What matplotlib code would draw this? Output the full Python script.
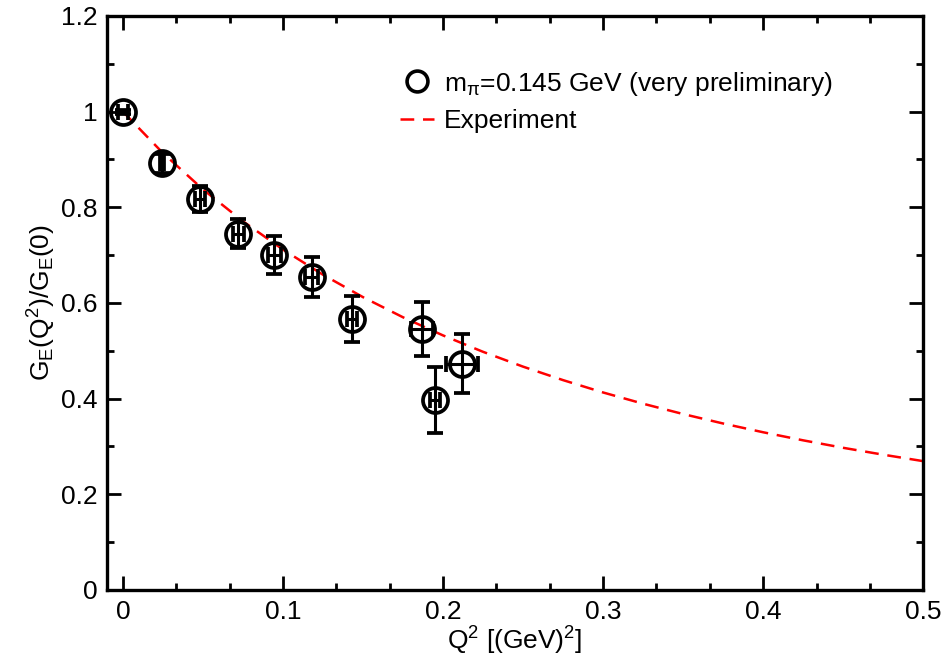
import numpy as np
import matplotlib
matplotlib.use('Agg')
import matplotlib.pyplot as plt

plt.rcParams['font.family'] = ['Liberation Sans', 'DejaVu Sans']
plt.rcParams['mathtext.fontset'] = 'custom'
plt.rcParams['mathtext.rm'] = 'Liberation Sans'
plt.rcParams['mathtext.it'] = 'Liberation Sans:italic'

# lattice points
q2 = [0.0, 0.0244, 0.048, 0.072, 0.0946, 0.118, 0.143, 0.187, 0.195, 0.212]
q2_err = [0.003, 0.0015, 0.003, 0.0035, 0.004, 0.004, 0.003, 0.007, 0.003, 0.010]
ge = [1.0, 0.892, 0.818, 0.745, 0.70, 0.655, 0.566, 0.545, 0.397, 0.473]
ge_err = [0.004, 0.02, 0.027, 0.031, 0.04, 0.042, 0.048, 0.057, 0.07, 0.062]

# experiment curve
q2_exp = [0.0, 0.025, 0.05, 0.075, 0.1, 0.125, 0.15, 0.175, 0.2, 0.225, 0.25,
          0.275, 0.3, 0.325, 0.35, 0.375, 0.4, 0.425, 0.45, 0.475, 0.5]
ge_exp = [1.0, 0.9133, 0.8374, 0.7706, 0.7115, 0.6589, 0.6120, 0.5699, 0.5320,
          0.4977, 0.4667, 0.4385, 0.4127, 0.3892, 0.3676, 0.3478, 0.3295,
          0.3126, 0.2970, 0.2826, 0.2691]

fig = plt.figure(figsize=(9.46, 6.65), dpi=100)
ax = fig.add_axes([0.113, 0.113, 0.863, 0.863])

ax.plot(q2_exp, ge_exp, color='red', ls=(0, (5.5, 3.5)), lw=1.8, label='Experiment', zorder=2)
ax.errorbar(q2, ge, xerr=q2_err, yerr=ge_err, fmt='o', mfc='none', mec='black', ms=18,
            mew=2.7, ecolor='black', elinewidth=2.2, capsize=6, capthick=2.2, zorder=3)
h_pts, = ax.plot([], [], 'o', mfc='none', mec='black', ms=15, mew=2.6)
h_exp = ax.get_lines()[0]

ax.set_xlim(-0.01, 0.5)
ax.set_ylim(0, 1.2)
ax.set_xticks([0, 0.1, 0.2, 0.3, 0.4, 0.5])
ax.set_xticklabels(['0', '0.1', '0.2', '0.3', '0.4', '0.5'])
ax.set_xticks(np.arange(0, 0.5, 0.1 / 3), minor=True)
ax.set_yticks([0, 0.2, 0.4, 0.6, 0.8, 1.0, 1.2])
ax.set_yticklabels(['0', '0.2', '0.4', '0.6', '0.8', '1', '1.2'])
ax.set_yticks(np.arange(0.1, 1.2, 0.2), minor=True)
ax.tick_params(which='both', direction='in', top=True, right=True, width=2, labelsize=19)
ax.tick_params(which='major', length=10, pad=7)
ax.tick_params(which='minor', length=5)
for s in ax.spines.values():
    s.set_linewidth(2.4)

ax.set_xlabel(r'Q$^2$ [(GeV)$^2$]', fontsize=19, labelpad=1)
ax.set_ylabel(r'G$_\mathrm{E}$(Q$^2$)/G$_\mathrm{E}$(0)', fontsize=19, labelpad=2)

ax.legend([h_pts, h_exp], [r'm$_\mathrm{π}$=0.145 GeV (very preliminary)', 'Experiment'],
          loc='upper left', bbox_to_anchor=(0.33, 0.948), frameon=False, fontsize=19,
          handlelength=1.3, handletextpad=0.35, labelspacing=0.45)

fig.savefig('out.png', dpi=100)
